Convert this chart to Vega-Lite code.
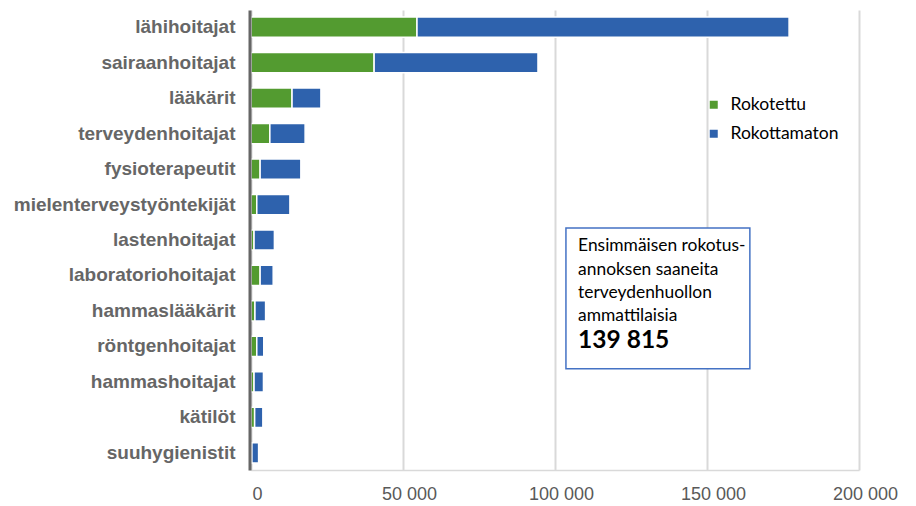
{
  "$schema": "https://vega.github.io/schema/vega-lite/v6.json",
  "width": 608,
  "height": 460,
  "autosize": "none",
  "padding": {"left": 251, "top": 10, "right": 57, "bottom": 36},
  "background": "white",
  "config": {"view": {"stroke": null}, "font": "Liberation Sans"},
  "datasets": {
    "bars": [
      {"ammatti": "lähihoitajat", "tila": "Rokotettu", "n": 54600},
      {"ammatti": "lähihoitajat", "tila": "Rokottamaton", "n": 122400},
      {"ammatti": "sairaanhoitajat", "tila": "Rokotettu", "n": 40500},
      {"ammatti": "sairaanhoitajat", "tila": "Rokottamaton", "n": 53900},
      {"ammatti": "lääkärit", "tila": "Rokotettu", "n": 13500},
      {"ammatti": "lääkärit", "tila": "Rokottamaton", "n": 9500},
      {"ammatti": "terveydenhoitajat", "tila": "Rokotettu", "n": 6200},
      {"ammatti": "terveydenhoitajat", "tila": "Rokottamaton", "n": 11600},
      {"ammatti": "fysioterapeutit", "tila": "Rokotettu", "n": 3000},
      {"ammatti": "fysioterapeutit", "tila": "Rokottamaton", "n": 13400},
      {"ammatti": "mielenterveystyöntekijät", "tila": "Rokotettu", "n": 1900},
      {"ammatti": "mielenterveystyöntekijät", "tila": "Rokottamaton", "n": 10900},
      {"ammatti": "lastenhoitajat", "tila": "Rokotettu", "n": 1000},
      {"ammatti": "lastenhoitajat", "tila": "Rokottamaton", "n": 6700},
      {"ammatti": "laboratoriohoitajat", "tila": "Rokotettu", "n": 3000},
      {"ammatti": "laboratoriohoitajat", "tila": "Rokottamaton", "n": 4300},
      {"ammatti": "hammaslääkärit", "tila": "Rokotettu", "n": 1300},
      {"ammatti": "hammaslääkärit", "tila": "Rokottamaton", "n": 3500},
      {"ammatti": "röntgenhoitajat", "tila": "Rokotettu", "n": 1900},
      {"ammatti": "röntgenhoitajat", "tila": "Rokottamaton", "n": 2300},
      {"ammatti": "hammashoitajat", "tila": "Rokotettu", "n": 1000},
      {"ammatti": "hammashoitajat", "tila": "Rokottamaton", "n": 3100},
      {"ammatti": "kätilöt", "tila": "Rokotettu", "n": 1200},
      {"ammatti": "kätilöt", "tila": "Rokottamaton", "n": 2700},
      {"ammatti": "suuhygienistit", "tila": "Rokotettu", "n": 300},
      {"ammatti": "suuhygienistit", "tila": "Rokottamaton", "n": 2200}
    ],
    "box": [{"x1": 103600, "x2": 164100, "y1": 6.16, "y2": 10.14}],
    "lines": [
      {"t": "Ensimmäisen rokotus-", "x": 107600, "y": 6.67},
      {"t": "annoksen saaneita", "x": 107600, "y": 7.34},
      {"t": "terveydenhuollon", "x": 107600, "y": 8.0},
      {"t": "ammattilaisia", "x": 107600, "y": 8.64}
    ],
    "big": [{"t": "139 815", "x": 107600, "y": 9.36}]
  },
  "layer": [
    {
      "data": {"name": "bars"},
      "mark": {"type": "bar", "stroke": "white", "strokeWidth": 1.5},
      "encoding": {
        "y": {
          "field": "ammatti", "type": "nominal",
          "sort": ["lähihoitajat","sairaanhoitajat","lääkärit","terveydenhoitajat","fysioterapeutit","mielenterveystyöntekijät","lastenhoitajat","laboratoriohoitajat","hammaslääkärit","röntgenhoitajat","hammashoitajat","kätilöt","suuhygienistit"],
          "scale": {"paddingInner": 0.43, "paddingOuter": 0.2},
          "axis": {
            "title": null, "ticks": false, "labelPadding": 14.5, "labelLimit": 400, "offset": 1.5,
            "labelFont": "Liberation Sans", "labelFontSize": 19, "labelFontWeight": "bold",
            "labelColor": "#666666", "domainColor": "#666666", "domainWidth": 3,
            "grid": false, "zindex": 1
          }
        },
        "x": {
          "field": "n", "type": "quantitative", "stack": "zero",
          "scale": {"domain": [0, 200000], "nice": false},
          "axis": {
            "title": null, "values": [0, 50000, 100000, 150000, 200000],
            "format": ",.0f", "labelExpr": "replace(datum.label, /,/g, ' ')",
            "ticks": false, "labelPadding": 15, "labelFontSize": 18, "labelFlush": false, "labelOffset": 6,
            "labelColor": "#595959", "labelFont": "Liberation Sans",
            "grid": true, "gridColor": "#d9d9d9", "gridWidth": 2,
            "domainColor": "#d9d9d9", "domainWidth": 1.5
          }
        },
        "color": {
          "field": "tila", "type": "nominal",
          "scale": {"domain": ["Rokotettu", "Rokottamaton"], "range": ["#539b30", "#2e62ad"]},
          "legend": {
            "title": null, "orient": "none", "legendX": 454, "legendY": 86,
            "symbolType": "square", "symbolSize": 64, "symbolStrokeWidth": 0,
            "labelFont": "Lato", "labelFontSize": 17.5, "labelColor": "#000000",
            "rowPadding": 10, "labelOffset": 8
          }
        },
        "order": {"field": "tila", "sort": "ascending"}
      }
    },
    {
      "data": {"name": "box"},
      "mark": {"type": "rect", "fill": "white", "stroke": "#4472c4", "strokeWidth": 1.5},
      "encoding": {
        "x": {"field": "x1", "type": "quantitative"},
        "x2": {"field": "x2"},
        "y": {"field": "y1", "type": "quantitative", "scale": {"domain": [0, 13], "reverse": true, "nice": false}, "axis": null},
        "y2": {"field": "y2"}
      }
    },
    {
      "data": {"name": "lines"},
      "mark": {"type": "text", "align": "left", "baseline": "middle", "font": "Lato", "fontSize": 17.4, "color": "#000000"},
      "encoding": {
        "x": {"field": "x", "type": "quantitative"},
        "y": {"field": "y", "type": "quantitative", "scale": {"domain": [0, 13], "reverse": true, "nice": false}, "axis": null},
        "text": {"field": "t"}
      }
    },
    {
      "data": {"name": "big"},
      "mark": {"type": "text", "align": "left", "baseline": "middle", "font": "Lato", "fontSize": 24.5, "fontWeight": "bold", "color": "#000000"},
      "encoding": {
        "x": {"field": "x", "type": "quantitative"},
        "y": {"field": "y", "type": "quantitative", "scale": {"domain": [0, 13], "reverse": true, "nice": false}, "axis": null},
        "text": {"field": "t"}
      }
    }
  ],
  "resolve": {"scale": {"y": "independent"}, "axis": {"y": "independent"}}
}
